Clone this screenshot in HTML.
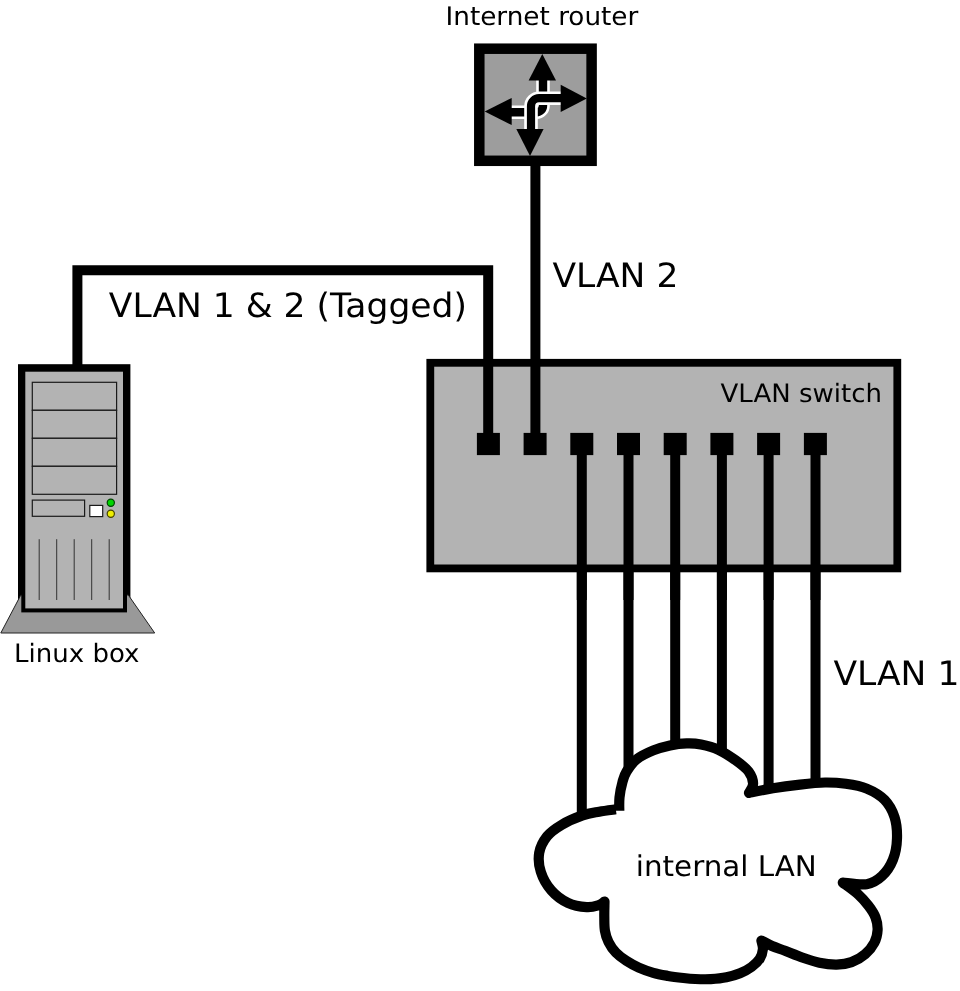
<!DOCTYPE html>
<html lang="en">
<head>
<meta charset="utf-8">
<title>VLAN network diagram</title>
<style>
  html, body { margin: 0; padding: 0; background: #ffffff; }
  body { width: 960px; height: 991px; overflow: hidden; }
  svg { display: block; will-change: transform; }
  text { font-family: "DejaVu Sans", "Liberation Sans", sans-serif; fill: #000; text-rendering: geometricPrecision; }
  .big { font-size: 33.5px; }
  .lan { font-size: 28.5px; }
  .small { font-size: 25.25px; }
  .rtr { font-size: 25.5px; }
</style>
</head>
<body>
<svg width="960" height="991" viewBox="0 0 960 991">
  <rect x="0" y="0" width="960" height="991" fill="#ffffff"/>

  <!-- ===== cables to the internal LAN (behind switch ports & cloud) ===== -->
  <g id="lan-cables" stroke="#000" stroke-width="10" fill="none" stroke-linecap="butt">
    <path d="M581.8 444 V822"/>
    <path d="M628.5 444 V775"/>
    <path d="M675.2 444 V752"/>
    <path d="M721.9 444 V758"/>
    <path d="M768.6 444 V796"/>
    <path d="M815.5 444 V790"/>
  </g>

  <!-- ===== cloud ===== -->
  <g id="cloud">
    <path fill="#ffffff" stroke="#000" stroke-width="10.2" stroke-linejoin="round" stroke-linecap="butt"
      d="M615.8 809.3 C613.0 809.7 604.8 810.7 599.2 811.7 C593.7 812.7 588.8 813.2 582.5 815.4 C576.2 817.6 567.6 821.3 561.7 824.8 C555.8 828.3 550.9 831.6 547.1 836.3 C543.4 841.0 540.2 847.0 539.2 852.9 C538.2 858.8 538.8 865.5 540.8 871.7 C542.8 878.0 546.8 885.2 551.3 890.4 C555.8 895.6 562.0 900.1 567.9 902.9 C573.8 905.7 581.5 906.8 586.7 907.1 C591.9 907.5 596.2 905.9 599.2 905.0 C602.2 904.1 603.6 902.1 604.5 901.5 C604.5 904.1 604.2 912.1 604.3 917.0 C604.4 921.9 604.2 926.4 604.9 930.6 C605.6 934.8 606.7 938.4 608.5 942.0 C610.3 945.6 612.8 949.4 615.8 952.5 C618.8 955.6 622.5 958.3 626.3 960.8 C630.1 963.3 634.3 965.6 638.8 967.6 C643.3 969.6 648.4 971.4 653.3 972.8 C658.1 974.2 662.9 975.0 667.9 975.9 C672.9 976.8 679.0 977.5 683.5 978.0 C688.0 978.5 690.7 978.8 695.2 979.0 C699.8 979.2 705.6 979.4 710.8 979.1 C716.0 978.8 721.6 978.3 726.5 977.3 C731.4 976.3 735.8 975.0 740.0 973.3 C744.2 971.6 748.2 969.4 751.5 967.0 C754.8 964.6 757.9 961.7 759.8 958.7 C761.7 955.8 762.6 952.3 762.9 949.3 C763.2 946.3 761.6 942.0 761.4 940.5 C763.2 941.4 768.1 944.3 772.0 946.0 C775.9 947.7 780.0 948.9 785.0 950.8 C790.0 952.7 796.5 955.5 802.2 957.5 C807.9 959.5 813.7 961.5 819.4 962.7 C825.1 963.9 831.2 964.7 836.6 964.6 C842.0 964.5 846.7 963.9 851.5 962.1 C856.3 960.4 861.4 957.4 865.2 954.1 C869.0 950.9 872.3 946.6 874.4 942.6 C876.5 938.6 877.4 934.2 877.6 930.0 C877.8 925.8 877.0 921.4 875.5 917.4 C874.0 913.4 871.5 909.7 868.6 905.9 C865.7 902.1 862.6 898.4 858.3 894.5 C854.0 890.6 845.4 884.6 842.8 882.6 C846.8 882.9 860.2 885.3 866.7 884.2 C873.2 883.1 877.6 880.1 882.0 876.0 C886.4 871.9 890.5 865.8 893.0 859.5 C895.5 853.2 896.8 845.4 897.0 838.3 C897.2 831.2 896.6 823.4 894.5 817.0 C892.4 810.6 889.1 804.5 884.5 799.8 C879.9 795.1 873.2 791.3 866.7 788.6 C860.2 785.9 852.8 784.8 845.8 783.8 C838.8 782.8 832.6 782.4 825.0 782.5 C817.4 782.6 808.7 783.6 800.0 784.6 C791.3 785.6 781.4 786.9 772.9 788.3 C764.4 789.7 753.0 792.1 749.0 792.9 C749.7 791.3 753.2 787.1 753.1 783.5 C753.0 779.9 751.5 775.4 748.6 771.5 C745.7 767.6 740.5 763.8 735.5 760.2 C730.5 756.6 724.2 752.4 718.5 749.8 C712.8 747.2 706.3 745.6 701.0 744.5 C695.7 743.4 691.9 743.2 686.7 743.4 C681.5 743.5 675.6 744.2 670.0 745.4 C664.4 746.6 658.8 748.1 653.3 750.4 C647.8 752.7 641.2 755.7 636.7 759.2 C632.2 762.7 629.0 767.7 626.6 771.5 C624.2 775.3 623.7 777.7 622.5 782.0 C621.3 786.3 620.0 792.7 619.5 797.5 C619.0 802.3 619.3 808.6 619.3 810.8"/>
  </g>

  <!-- ===== switch ===== -->
  <g id="switch">
    <rect x="430.3" y="362.8" width="467" height="205.6" fill="#b3b3b3" stroke="#000" stroke-width="7.8"/>
  </g>
  <!-- redraw the LAN cables on top of the switch body -->
  <g stroke="#000" stroke-width="10" fill="none">
    <path d="M581.8 444 V600"/>
    <path d="M628.5 444 V600"/>
    <path d="M675.2 444 V600"/>
    <path d="M721.9 444 V600"/>
    <path d="M768.6 444 V600"/>
    <path d="M815.5 444 V600"/>
  </g>
  <g id="ports" fill="#000">
    <rect x="476.9" y="432.9" width="23" height="22.2"/>
    <rect x="523.6" y="432.9" width="23" height="22.2"/>
    <rect x="570.3" y="432.9" width="23" height="22.2"/>
    <rect x="617.0" y="432.9" width="23" height="22.2"/>
    <rect x="663.7" y="432.9" width="23" height="22.2"/>
    <rect x="710.4" y="432.9" width="23" height="22.2"/>
    <rect x="757.1" y="432.9" width="23" height="22.2"/>
    <rect x="803.9" y="432.9" width="23" height="22.2"/>
  </g>
  <text class="small" transform="translate(720.5 402.3) scale(1.03 1)">VLAN switch</text>

  <!-- ===== uplink cables ===== -->
  <g stroke="#000" stroke-width="10" fill="none" stroke-linejoin="miter">
    <path d="M77.4 368 V270.2 H488.2 V444"/>
    <path d="M535.4 160 V444"/>
  </g>

  <!-- ===== router ===== -->
  <g id="router">
    <rect x="479.3" y="48.7" width="112.3" height="112.1" fill="#9d9d9d" stroke="#000" stroke-width="10.5"/>
    <!-- left -> up path (under) -->
    <path d="M505 112.2 H536.5 A6.5 6.5 0 0 0 543 105.7 V75" fill="none" stroke="#fff" stroke-width="13.6"/>
    <path d="M505 112.2 H536.5 A6.5 6.5 0 0 0 543 105.7 V75" fill="none" stroke="#000" stroke-width="8.4"/>
    <!-- down -> right path (over) -->
    <path d="M531 135 V106.2 A8 8 0 0 1 539 98.2 H565" fill="none" stroke="#fff" stroke-width="13.6"/>
    <path d="M531 135 V106.2 A8 8 0 0 1 539 98.2 H565" fill="none" stroke="#000" stroke-width="8.2"/>
    <!-- arrow heads -->
    <g fill="#000">
      <polygon points="542.3,54 556,80.6 528.6,80.6"/>
      <polygon points="586.8,98.4 560.7,112 560.7,84.8"/>
      <polygon points="484.7,111.5 511.7,98 511.7,125.1"/>
      <polygon points="530,156 516.3,129 543.6,129"/>
    </g>
  </g>
  <text class="rtr" transform="translate(445.5 24.5) scale(1.03 1)">Internet router</text>

  <!-- ===== linux box ===== -->
  <g id="linuxbox">
    <rect x="21.7" y="367.9" width="105" height="241" fill="#000" stroke="#000" stroke-width="7.4"/>
    <polygon points="20.8,595 128.3,595 154.7,633 0.8,633" fill="#999999" stroke="#222" stroke-width="1"/>
    <rect x="23.3" y="369.7" width="101.7" height="240.7" fill="#b3b3b3" stroke="#000" stroke-width="4"/>
    <g fill="#b3b3b3" stroke="#1a1a1a" stroke-width="1.2">
      <rect x="32.3" y="382.3" width="84.3" height="28"/>
      <rect x="32.3" y="410.3" width="84.3" height="28"/>
      <rect x="32.3" y="438.3" width="84.3" height="28"/>
      <rect x="32.3" y="466.3" width="84.3" height="28"/>
      <rect x="32.3" y="500.1" width="52.3" height="16.2"/>
      <rect x="89.8" y="505.4" width="12.9" height="11.2" fill="#ffffff"/>
      <circle cx="110.8" cy="502.8" r="3.6" fill="#00d400" stroke="#004400"/>
      <circle cx="110.8" cy="513.8" r="3.6" fill="#eeee00" stroke="#444400"/>
    </g>
    <g stroke="#333" stroke-width="1" fill="none">
      <path d="M39.2 539.2 V600"/>
      <path d="M56.7 539.2 V600"/>
      <path d="M74.2 539.2 V600"/>
      <path d="M91.7 539.2 V600"/>
      <path d="M109.2 539.2 V600"/>
    </g>
  </g>
  <text class="small" transform="translate(14.1 661.9) scale(1.03 1)">Linux box</text>

  <!-- ===== labels ===== -->
  <text class="big" transform="translate(108.8 316.8) scale(1.03 1)">VLAN 1 &amp; 2 (Tagged)</text>
  <text class="big" transform="translate(552.4 286.6) scale(1.03 1)">VLAN 2</text>
  <text class="big" transform="translate(833.4 685.4) scale(1.03 1)">VLAN 1</text>
  <text class="lan" transform="translate(635.8 875.9) scale(1.03 1)">internal LAN</text>
</svg>
</body>
</html>
